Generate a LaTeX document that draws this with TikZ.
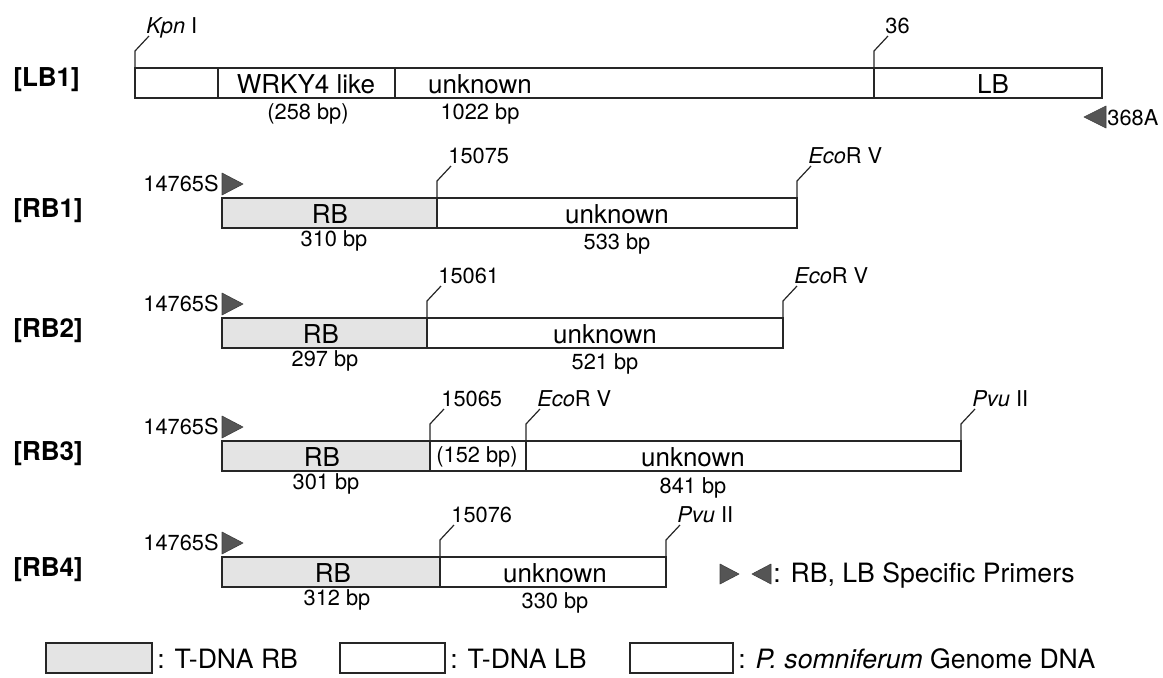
\documentclass[tikz,border=0pt]{standalone}
\usepackage{fontspec}
\setmainfont{TeX Gyre Heros}
\usetikzlibrary{calc}
\definecolor{rbgray}{RGB}{228,228,228}
\definecolor{primergray}{RGB}{85,85,85}
\tikzset{
  seg/.style={draw=black!85,line width=0.6pt},
  rbseg/.style={seg,fill=rbgray},
  boxtxt/.style={inner sep=0pt,font=\fontsize{13}{15}\selectfont},
  sizetxt/.style={inner sep=0pt,font=\fontsize{10.9}{12}\selectfont},
  rowtxt/.style={inner sep=0pt,anchor=west,font=\bfseries\fontsize{13}{15}\selectfont},
  legtxt/.style={inner sep=0pt,anchor=west,font=\fontsize{13.3}{15}\selectfont},
  leader/.style={draw=black!85,line width=0.6pt},
  primer/.style={fill=primergray,draw=black!75,line width=0.3pt,line join=round},
}
% cut site / junction: name, x, box top, label
\newcommand{\cutsite}[4]{%
  \coordinate (#1) at (#2,#3);
  \node[sizetxt,anchor=base west] (#1-l) at (#2+11,#3-35) {#4};
  \draw[leader] (#1) -- ++(0,-17) -- ([shift={(3,3)}]#1-l.base west);
}

\begin{document}
\begin{tikzpicture}[x=0.5pt,y=-0.5pt]
  \useasboundingbox (0,0) rectangle (1163,677);
  % [LB1]
  \node[rowtxt] (lb1) at (13,80) {[LB1]};
  \draw[seg] (135,68) rectangle (218,98);
  \draw[seg] (218,68) rectangle (395,98);
  \draw[seg] (395,68) rectangle (874,98);
  \draw[seg] (874,68) rectangle (1102,98);
  \node[boxtxt] (lb1-wrky) at (306,84) {WRKY4 like};
  \node[sizetxt] (lb1-wrkybp) at (308,114) {(258 bp)};
  \node[boxtxt] (lb1-unk) at (480,84) {unknown};
  \node[sizetxt] (lb1-unkbp) at (480,114) {1022 bp};
  \node[boxtxt] (lb1-lb) at (993,84) {LB};
  \cutsite{lb1a}{135}{68}{\textit{Kpn} I}
  \cutsite{lb1b}{874}{68}{36}
  \fill[primer] (1106,106) -- (1084,117) -- (1106,128) -- cycle;
  \node[sizetxt,anchor=west] (lb1-p) at (1107,118) {368A};
  % RB part of every [RB] row
  \foreach \rw/\ty/\jx/\bpx/\bp in {1/198/437/334/310,2/318/427/325/297,3/441/430/326/301,4/557/440/337/312}{
    \node[rowtxt] (rb\rw) at (13,\ty+13) {[RB\rw]};
    \draw[rbseg] (222,\ty) rectangle (\jx,\ty+30);
    \node[boxtxt] (rb\rw-rb) at (\bpx-4,\ty+16) {RB};
    \node[sizetxt] (rb\rw-bp) at (\bpx,\ty+43) {\bp\ bp};
    \fill[primer] (222,\ty-25) -- (243,\ty-14) -- (222,\ty-3) -- cycle;
    \node[sizetxt,anchor=east] (rb\rw-s) at (219,\ty-14) {14765S};
  }
  % [RB1]
  \draw[seg] (437,198) rectangle (797,228);
  \node[boxtxt] (rb1-unk) at (617,214) {unknown};
  \node[sizetxt] (rb1-unkbp) at (617,244) {533 bp};
  \cutsite{rb1a}{437}{198}{15075}
  \cutsite{rb1b}{797}{198}{\textit{Eco}R V}
  % [RB2]
  \draw[seg] (427,318) rectangle (783,348);
  \node[boxtxt] (rb2-unk) at (605,334) {unknown};
  \node[sizetxt] (rb2-unkbp) at (605,364) {521 bp};
  \cutsite{rb2a}{427}{318}{15061}
  \cutsite{rb2b}{783}{318}{\textit{Eco}R V}
  % [RB3]
  \draw[seg] (430,441) rectangle (526,471);
  \draw[seg] (526,441) rectangle (961,471);
  \node[sizetxt] (rb3-gap) at (477,457) {(152 bp)};
  \node[boxtxt] (rb3-unk) at (693,457) {unknown};
  \node[sizetxt] (rb3-unkbp) at (693,488) {841 bp};
  \cutsite{rb3a}{430}{441}{15065}
  \cutsite{rb3b}{526}{441}{\textit{Eco}R V}
  \cutsite{rb3c}{961}{441}{\textit{Pvu} II}
  % [RB4]
  \draw[seg] (440,557) rectangle (666,587);
  \node[boxtxt] (rb4-unk) at (555,573) {unknown};
  \node[sizetxt] (rb4-unkbp) at (555,603) {330 bp};
  \cutsite{rb4a}{440}{557}{15076}
  \cutsite{rb4b}{666}{557}{\textit{Pvu} II}
  % Legend
  \fill[primer] (720,564) -- (739,574) -- (720,584) -- cycle;
  \fill[primer] (771,564) -- (752,574) -- (771,584) -- cycle;
  \node[legtxt] (leg-primer) at (773,575) {: RB, LB Specific Primers};
  \draw[rbseg] (46,643) rectangle (152,673);
  \node[legtxt] (leg-rb) at (157,659) {: T-DNA RB};
  \draw[seg] (340,643) rectangle (445,673);
  \node[legtxt] (leg-lb) at (450,659) {: T-DNA LB};
  \draw[seg] (630,643) rectangle (733,673);
  \node[legtxt] (leg-gen) at (738,659) {: \textit{P. somniferum} Genome DNA};
\end{tikzpicture}
\end{document}
